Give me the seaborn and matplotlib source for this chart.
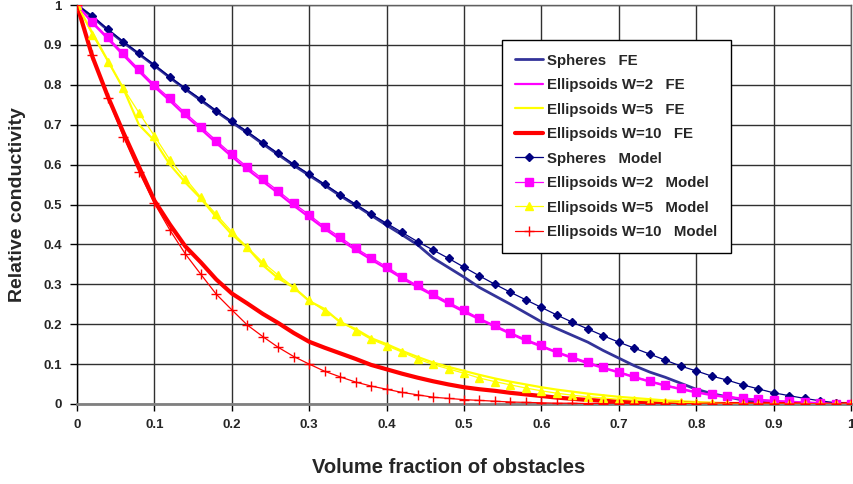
import numpy as np
import pandas as pd
import seaborn as sns
import matplotlib
matplotlib.use('Agg')
import matplotlib.pyplot as plt
from matplotlib.ticker import FixedLocator, FixedFormatter

# volume fraction grid (0 .. 1 step 0.02)
vf = [0.00, 0.02, 0.04, 0.06, 0.08, 0.10, 0.12, 0.14, 0.16, 0.18,
      0.20, 0.22, 0.24, 0.26, 0.28, 0.30, 0.32, 0.34, 0.36, 0.38,
      0.40, 0.42, 0.44, 0.46, 0.48, 0.50, 0.52, 0.54, 0.56, 0.58,
      0.60, 0.62, 0.64, 0.66, 0.68, 0.70, 0.72, 0.74, 0.76, 0.78,
      0.80, 0.82, 0.84, 0.86, 0.88, 0.90, 0.92, 0.94, 0.96, 0.98, 1.00]

# FE curves
sph_fe = [1.000, 0.970, 0.937, 0.906, 0.877, 0.848, 0.818, 0.789, 0.761, 0.733,
          0.706, 0.680, 0.652, 0.625, 0.598, 0.573, 0.548, 0.522, 0.498, 0.473,
          0.448, 0.424, 0.399, 0.366, 0.342, 0.318, 0.292, 0.271, 0.250, 0.228,
          0.206, 0.189, 0.172, 0.155, 0.134, 0.115, 0.096, 0.080, 0.067, 0.052,
          0.037, 0.026, 0.018, 0.010, 0.005, 0.002, 0.000, 0.000, 0.000, 0.000, 0.000]
w2_fe = [1.000, 0.955, 0.915, 0.874, 0.834, 0.795, 0.760, 0.723, 0.689, 0.654,
         0.620, 0.588, 0.558, 0.528, 0.497, 0.468, 0.439, 0.412, 0.386, 0.362,
         0.339, 0.315, 0.293, 0.272, 0.251, 0.231, 0.212, 0.194, 0.176, 0.159,
         0.144, 0.129, 0.115, 0.102, 0.090, 0.079, 0.067, 0.056, 0.046, 0.037,
         0.029, 0.022, 0.017, 0.013, 0.010, 0.007, 0.005, 0.003, 0.002, 0.001, 0.000]
w5_fe = [1.000, 0.930, 0.860, 0.790, 0.700, 0.660, 0.600, 0.555, 0.515, 0.468,
         0.425, 0.392, 0.348, 0.315, 0.292, 0.258, 0.238, 0.205, 0.188, 0.165,
         0.150, 0.133, 0.118, 0.104, 0.093, 0.083, 0.073, 0.064, 0.056, 0.049,
         0.042, 0.036, 0.031, 0.026, 0.022, 0.018, 0.015, 0.012, 0.009, 0.007,
         0.005, 0.003, 0.002, 0.001, 0.000, 0.000, 0.000, 0.000, 0.000, 0.000, 0.000]
w10_fe = [1.000, 0.870, 0.770, 0.680, 0.595, 0.510, 0.450, 0.395, 0.355, 0.312,
          0.277, 0.252, 0.226, 0.203, 0.178, 0.156, 0.141, 0.127, 0.113, 0.098,
          0.087, 0.076, 0.066, 0.057, 0.049, 0.042, 0.037, 0.033, 0.028, 0.024,
          0.020, 0.016, 0.013, 0.010, 0.008, 0.006, 0.004, 0.003, 0.002, 0.001,
          0.000, 0.000, 0.000, 0.000, 0.000, 0.000, 0.000, 0.000, 0.000, 0.000, 0.000]

# model curves
sph_mod = [1.000, 0.972, 0.939, 0.908, 0.879, 0.850, 0.820, 0.791, 0.764, 0.735,
           0.709, 0.683, 0.655, 0.628, 0.601, 0.576, 0.551, 0.525, 0.501, 0.476,
           0.453, 0.430, 0.407, 0.386, 0.365, 0.343, 0.321, 0.300, 0.280, 0.261,
           0.242, 0.223, 0.205, 0.188, 0.171, 0.155, 0.140, 0.125, 0.110, 0.095,
           0.083, 0.070, 0.060, 0.048, 0.038, 0.028, 0.021, 0.014, 0.008, 0.003, 0.000]
w2_mod = [1.000, 0.958, 0.919, 0.879, 0.839, 0.800, 0.766, 0.729, 0.695, 0.660,
          0.626, 0.594, 0.564, 0.534, 0.503, 0.474, 0.444, 0.418, 0.391, 0.367,
          0.344, 0.319, 0.297, 0.276, 0.255, 0.235, 0.215, 0.197, 0.179, 0.162,
          0.147, 0.131, 0.118, 0.105, 0.092, 0.081, 0.069, 0.058, 0.048, 0.039,
          0.031, 0.024, 0.019, 0.015, 0.012, 0.009, 0.007, 0.005, 0.003, 0.001, 0.000]
w5_mod = [1.000, 0.925, 0.858, 0.791, 0.730, 0.672, 0.612, 0.565, 0.518, 0.475,
          0.432, 0.393, 0.355, 0.323, 0.293, 0.260, 0.233, 0.208, 0.184, 0.162,
          0.146, 0.130, 0.113, 0.099, 0.088, 0.077, 0.065, 0.056, 0.048, 0.040,
          0.033, 0.027, 0.022, 0.018, 0.015, 0.012, 0.010, 0.008, 0.006, 0.004,
          0.003, 0.002, 0.001, 0.001, 0.000, 0.000, 0.000, 0.000, 0.000, 0.000, 0.000]
w10_mod = [1.000, 0.875, 0.766, 0.670, 0.582, 0.503, 0.436, 0.376, 0.325, 0.275,
           0.236, 0.198, 0.169, 0.142, 0.119, 0.100, 0.082, 0.068, 0.055, 0.045,
           0.037, 0.029, 0.023, 0.017, 0.014, 0.011, 0.009, 0.007, 0.005, 0.004,
           0.003, 0.002, 0.002, 0.001, 0.001, 0.000, 0.000, 0.000, 0.000, 0.000,
           0.000, 0.000, 0.000, 0.000, 0.000, 0.000, 0.000, 0.000, 0.000, 0.000, 0.000]

labels = ['Spheres   FE', 'Ellipsoids W=2   FE', 'Ellipsoids W=5   FE', 'Ellipsoids W=10   FE',
          'Spheres   Model', 'Ellipsoids W=2   Model', 'Ellipsoids W=5   Model', 'Ellipsoids W=10   Model']
tick_vals = [0, 0.1, 0.2, 0.3, 0.4, 0.5, 0.6, 0.7, 0.8, 0.9, 1]
tick_text = ['0', '0.1', '0.2', '0.3', '0.4', '0.5', '0.6', '0.7', '0.8', '0.9', '1']

sns.set_style('white')
plt.rcParams['font.family'] = ['Liberation Sans', 'DejaVu Sans']
plt.rcParams['font.weight'] = 'bold'

fig = plt.figure(figsize=(8.54, 4.84), dpi=100)
ax = fig.add_axes([77/854, 1-404/484, 774/854, 399/484])

# FE curves (lines only)
fe_styles = [(sph_fe, '#333399', 2.0), (w2_fe, '#FF00FF', 1.6),
             (w5_fe, '#FFFF00', 1.6), (w10_fe, '#FF0000', 3.0)]
handles = []
for (ys, c, lw), lab in zip(fe_styles, labels[:4]):
    sns.lineplot(x=vf, y=ys, ax=ax, color=c, linewidth=lw, sort=False,
                 estimator=None, label=lab, legend=False, zorder=3)
    handles.append(ax.lines[-1])

# model curves (thin lines with markers)
mod_styles = [(sph_mod, '#000080', 'D', 4.5, '#000080'),
              (w2_mod, '#FF00FF', 's', 5.5, '#FF00FF'),
              (w5_mod, '#FFFF00', '^', 5.5, '#FFFF00'),
              (w10_mod, '#FF0000', '+', 6.5, '#FF0000')]
for (ys, c, m, ms, mc), lab in zip(mod_styles, labels[4:]):
    sns.lineplot(x=vf, y=ys, ax=ax, color=c, linewidth=0.9, sort=False,
                 estimator=None, marker=m, markersize=ms, markerfacecolor=mc,
                 markeredgecolor=mc, markeredgewidth=1.0, label=lab, legend=False, zorder=4)
    handles.append(ax.lines[-1])

ax.set_xlim(0, 1)
ax.set_ylim(0, 1)
ax.xaxis.set_major_locator(FixedLocator(tick_vals))
ax.xaxis.set_major_formatter(FixedFormatter(tick_text))
ax.yaxis.set_major_locator(FixedLocator(tick_vals))
ax.yaxis.set_major_formatter(FixedFormatter(tick_text))
ax.grid(True, color='#303030', linewidth=1.0, zorder=0)
ax.set_axisbelow(True)
ax.tick_params(axis='both', direction='out', length=5, width=1, color='black',
               labelsize=9.5, pad=6, bottom=True, left=True)
for t in ax.get_xticklabels() + ax.get_yticklabels():
    t.set_fontweight('bold')
for s in ['top', 'right']:
    ax.spines[s].set_color('#606060')
    ax.spines[s].set_linewidth(1.0)
ax.spines['left'].set_color('black')
ax.spines['left'].set_linewidth(1.0)
ax.spines['bottom'].set_color('#808080')
ax.spines['bottom'].set_linewidth(2.0)

ax.set_xlabel('Volume fraction of obstacles', fontsize=14.5, fontweight='bold', labelpad=17)
ax.xaxis.set_label_coords(0.48, -0.135)
ax.set_ylabel('Relative conductivity', fontsize=14, fontweight='bold', labelpad=12)

leg = ax.legend(handles=handles, labels=labels, loc='upper left',
                bbox_to_anchor=(0.549, 0.912), fontsize=10.8, frameon=True,
                fancybox=False, edgecolor='black', framealpha=1,
                labelspacing=0.7, handlelength=1.85, handletextpad=0.25,
                borderpad=0.9, borderaxespad=0)
leg.get_frame().set_linewidth(1.0)
for t in leg.get_texts():
    t.set_fontweight('bold')

fig.savefig('out.png', dpi=100)
